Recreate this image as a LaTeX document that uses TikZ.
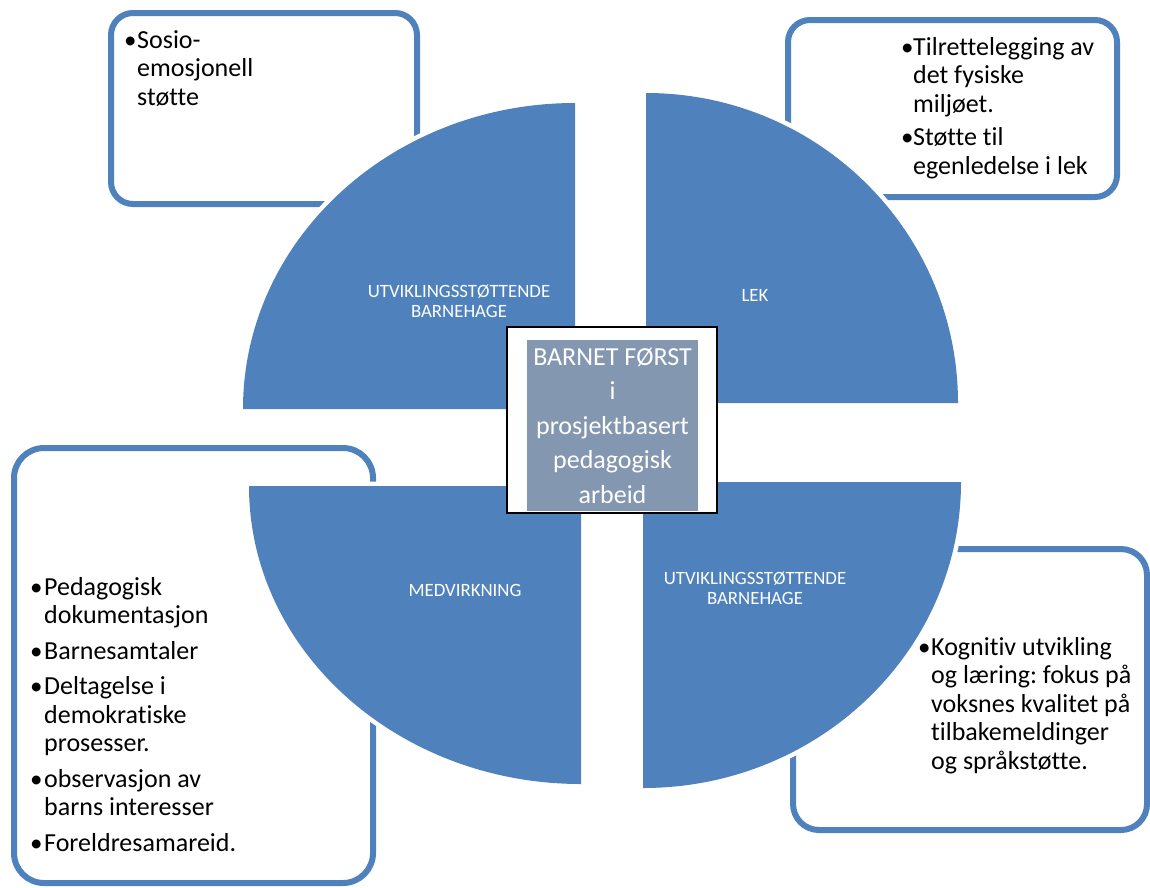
\documentclass[tikz,border=0pt]{standalone}
\usepackage{fontspec}
\setmainfont{Carlito}[Ligatures=CommonOff]
\definecolor{qblue}{HTML}{4F81BD}
\definecolor{kgrey}{HTML}{8497B0}
\frenchspacing
\newcommand\pkt{{\fontsize{25}{25}\selectfont\textbullet}}
\tikzset{
  infobox/.style={draw=qblue, line width=6pt, fill=white, rounded corners=#1},
  quarter/.style={fill=qblue, preaction={draw=white, line width=9pt}},
  quartertext/.style={text=white, font=\fontsize{18.8}{20.5}\selectfont, anchor=base, inner sep=0pt},
  listtext/.style={font=\fontsize{26}{28.5}\selectfont, anchor=base west, inner sep=0pt}
}
\begin{document}
\begin{tikzpicture}[x=1pt, y=-1pt]
\useasboundingbox (0,0) rectangle (1150,887);

% text boxes behind the circle
  \draw[infobox=22pt] (111,13) rectangle (417,204);
  \draw[infobox=22pt] (788,20) rectangle (1117,197);
  \draw[infobox=30pt] (14,448) rectangle (373,883);
  \draw[infobox=26pt] (793,549) rectangle (1147,830);
%
% the four quarters
  \path[quarter] (575,409) -- (243,409)
    arc[start angle=180, end angle=270, x radius=332, y radius=306] -- cycle;
  \path[quarter] (646,403) -- (646,93)
    arc[start angle=270, end angle=360, x radius=312, y radius=310] -- cycle;
  \path[quarter] (581,486) -- (249,486)
    arc[start angle=180, end angle=90, x radius=332, y radius=298] -- cycle;
  \path[quarter] (643,482) -- (961,482)
    arc[start angle=0, end angle=90, x radius=318, y radius=306] -- cycle;
%
  \node[quartertext] (utvtop) at (459,297) {\begin{tabular}[t]{@{}c@{}}UTVIKLINGSSTØTTENDE\\BARNEHAGE\end{tabular}};
  \node[quartertext] (lek) at (755,301) {LEK};
  \node[quartertext] (medv) at (465,596) {MEDVIRKNING};
  \node[quartertext] (utvbot) at (755,584) {\begin{tabular}[t]{@{}c@{}}UTVIKLINGSSTØTTENDE\\BARNEHAGE\end{tabular}};
%
% centre
  \node[draw=black, line width=1.5pt, fill=white, minimum width=210pt, minimum height=186pt] (frame) at (612,420) {};
  \node[fill=kgrey, text=white, minimum width=171pt, minimum height=171pt, align=center,
    font=\fontsize{26}{34.5}\selectfont] (core) at (612.5,425.5) {BARNET FØRST\\i\\prosjektbasert\\pedagogisk\\arbeid};
%
% lists
  \node[listtext] (sosio) at (124,48) {\begin{tabular}[t]{@{}p{13pt}@{}l@{}}
    \pkt & Sosio-\\ & emosjonell\\ & støtte\end{tabular}};
  \node[listtext] (lekliste) at (901,55) {\begin{tabular}[t]{@{}p{12pt}@{}l@{}}
    \pkt & Tilrettelegging av\\ & det fysiske\\ & miljøet.\\[5pt]
    \pkt & Støtte til\\ & egenledelse i lek\end{tabular}};
  \node[listtext] (medvliste) at (30,595) {\begin{tabular}[t]{@{}p{14pt}@{}l@{}}
    \pkt & Pedagogisk\\ & dokumentasjon\\[7pt]
    \pkt & Barnesamtaler\\[7pt]
    \pkt & Deltagelse i\\ & demokratiske\\ & prosesser.\\[7pt]
    \pkt & observasjon av\\ & barns interesser\\[7pt]
    \pkt & Foreldresamareid.\end{tabular}};
  \node[listtext] (kogn) at (918,655) {\begin{tabular}[t]{@{}p{13pt}@{}l@{}}
    \pkt & Kognitiv utvikling\\ & og læring: fokus på\\ & voksnes kvalitet på\\
    & tilbakemeldinger\\ & og språkstøtte.\end{tabular}};
%
\end{tikzpicture}
\end{document}
